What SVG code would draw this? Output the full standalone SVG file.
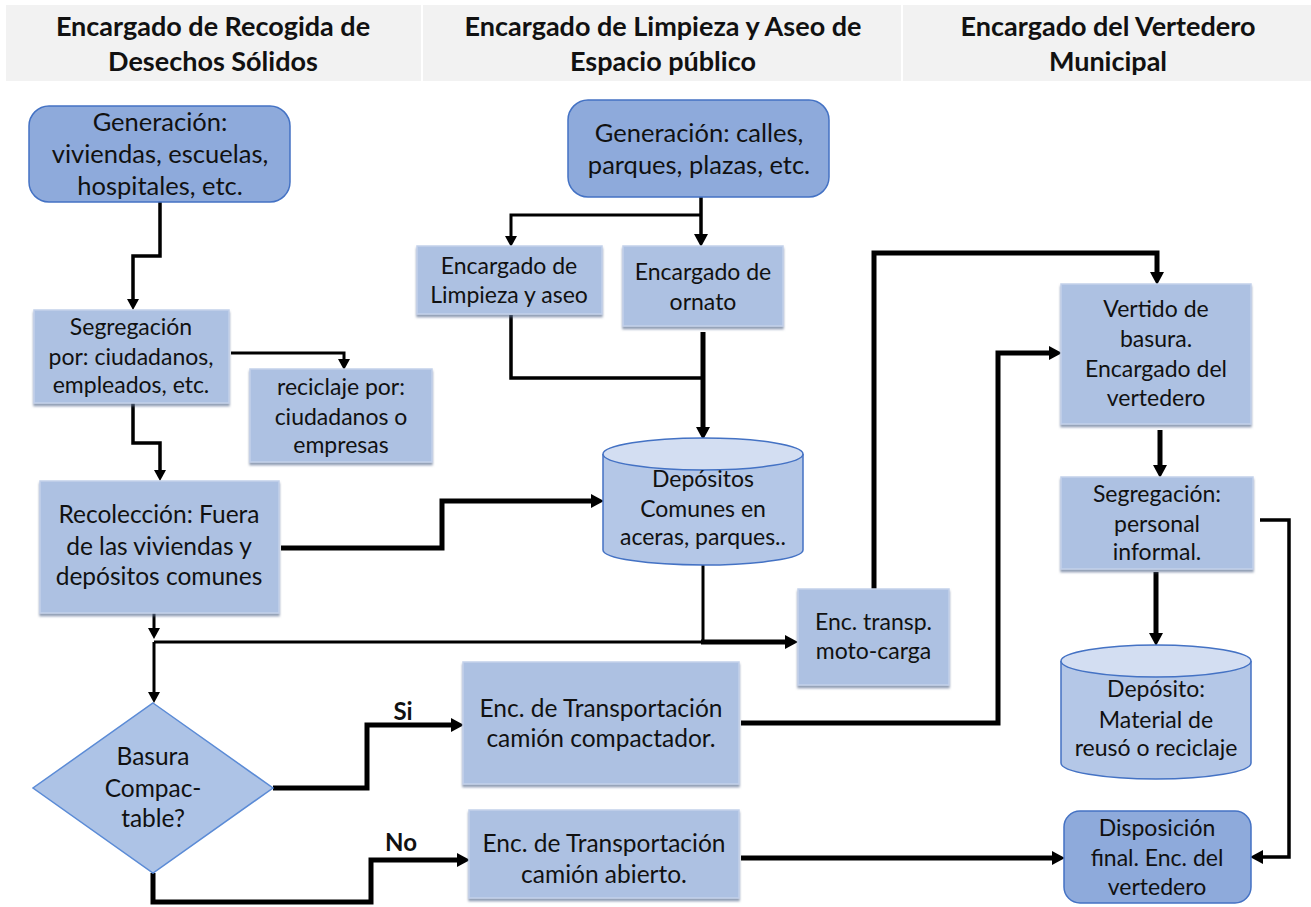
<svg xmlns="http://www.w3.org/2000/svg" width="1311" height="907" viewBox="0 0 1311 907">
<style>
.hd{fill:#f2f2f2}
.ht{font-family:Lato,"Open Sans","Liberation Sans",sans-serif;font-weight:bold;font-size:27px;fill:#111;text-anchor:middle}
.tx{font-family:Lato,"Open Sans","Liberation Sans",sans-serif;font-size:23px;fill:#111;text-anchor:middle}
.lg{font-size:25.5px}
.md{font-size:24.5px}
.lb{font-family:Lato,"Open Sans","Liberation Sans",sans-serif;font-weight:bold;font-size:24px;fill:#111;text-anchor:middle}
.bx{fill:#adc1e2;stroke:#c3d1ea;stroke-width:1.5;filter:url(#sh)}
.gn{fill:#8eaadb;stroke:#4472c4;stroke-width:1.5}
.cy{fill:#b4c7e7;stroke:#4472c4;stroke-width:1.5}
.ct{fill:#d3def2;stroke:#4472c4;stroke-width:1.5}
.dm{fill:#adc3e6;stroke:#5b8bd6;stroke-width:1.5}
.c{fill:none;stroke:#000;stroke-width:3.5;stroke-linejoin:miter}
.k{stroke-width:5}
.n{stroke-width:3}
</style>
<defs>
<filter id="sh" x="-5%" y="-5%" width="110%" height="115%">
<feDropShadow dx="0" dy="2.5" stdDeviation="0.8" flood-color="#5e6f92" flood-opacity="0.7"/>
</filter>
<marker id="ar" markerUnits="userSpaceOnUse" markerWidth="16" markerHeight="16" refX="4" refY="7" orient="auto">
<path d="M0,0 L13,7 L0,14 z" fill="#000"/>
</marker>
<marker id="as" markerUnits="userSpaceOnUse" markerWidth="14" markerHeight="14" refX="3" refY="6" orient="auto">
<path d="M0,0 L11,6 L0,12 z" fill="#000"/>
</marker>
</defs>
<rect width="1311" height="907" fill="#fff"/>
<g id="headers">
<rect class="hd" x="6" y="5" width="415" height="76"/>
<rect class="hd" x="423" y="5" width="478" height="76"/>
<rect class="hd" x="903" y="5" width="408" height="76"/>
<text class="ht" x="213" y="36">Encargado de Recogida de</text>
<text class="ht" x="213" y="71">Desechos Sólidos</text>
<text class="ht" x="663" y="36">Encargado de Limpieza y Aseo de</text>
<text class="ht" x="663" y="71">Espacio público</text>
<text class="ht" x="1108" y="36">Encargado del Vertedero</text>
<text class="ht" x="1108" y="71">Municipal</text>
</g>
<g id="connectors">
<path class="c" d="M160,202 V256 H133 V302" marker-end="url(#as)"/>
<path class="c n" d="M231,353 H344 V362" marker-end="url(#as)"/>
<path class="c" d="M133,403 V443 H160 V473" marker-end="url(#as)"/>
<path class="c" d="M701,197 V238" marker-end="url(#ar)"/>
<path class="c n" d="M701,215 H511 V239" marker-end="url(#as)"/>
<path class="c" d="M511,315 V378 H703"/>
<path class="c k" d="M703,332 V431" marker-end="url(#ar)"/>
<path class="c k" d="M281,548 H442 V501 H595" marker-end="url(#ar)"/>
<path class="c n" d="M154,613 V631" marker-end="url(#as)"/>
<path class="c n" d="M154,642 H703"/>
<path class="c n" d="M154,642 V695" marker-end="url(#as)"/>
<path class="c n" d="M703,565 V642"/>
<path class="c k" d="M701,642 H789" marker-end="url(#ar)"/>
<path class="c k" d="M874,589 V253 H1157 V276" marker-end="url(#ar)"/>
<path class="c k" d="M741,723 H998 V353 H1053" marker-end="url(#ar)"/>
<path class="c k" d="M1160,430 V469" marker-end="url(#ar)"/>
<path class="c k" d="M1156,572 V637" marker-end="url(#ar)"/>
<path class="c" d="M1260,520 H1289 V857 H1259" marker-end="url(#ar)"/>
<path class="c k" d="M741,858 H1056" marker-end="url(#ar)"/>
<path class="c k" d="M273,788 H367 V725 H455" marker-end="url(#ar)"/>
<path class="c k" d="M153,873 V902 H371 V860 H461" marker-end="url(#ar)"/>
<text class="lb" x="403" y="720">Si</text>
<text class="lb" x="401" y="851">No</text>
</g>
<g id="gen1">
<rect class="gn" x="29" y="106" width="261" height="96" rx="20"/>
<text class="tx lg" x="160" y="131">Generación:</text>
<text class="tx lg" x="160" y="163">viviendas, escuelas,</text>
<text class="tx lg" x="160" y="195">hospitales, etc.</text>
</g>
<g id="gen2">
<rect class="gn" x="568" y="100" width="261" height="97" rx="20"/>
<text class="tx lg" x="699" y="142">Generación: calles,</text>
<text class="tx lg" x="699" y="174">parques, plazas, etc.</text>
</g>
<g id="limpieza">
<rect class="bx" x="417" y="246" width="185" height="68"/>
<text class="tx" x="509" y="274">Encargado de</text>
<text class="tx" x="509" y="303">Limpieza y aseo</text>
</g>
<g id="ornato">
<rect class="bx" x="623" y="246" width="160" height="80"/>
<text class="tx" x="703" y="280">Encargado de</text>
<text class="tx" x="703" y="310">ornato</text>
</g>
<g id="segregacion1">
<rect class="bx" x="34" y="310" width="195" height="93"/>
<text class="tx" x="131" y="335">Segregación</text>
<text class="tx" x="131" y="365">por: ciudadanos,</text>
<text class="tx" x="131" y="393">empleados, etc.</text>
</g>
<g id="reciclaje">
<rect class="bx" x="250" y="369" width="182" height="93"/>
<text class="tx" x="341" y="395">reciclaje por:</text>
<text class="tx" x="341" y="425">ciudadanos o</text>
<text class="tx" x="341" y="453">empresas</text>
</g>
<g id="recoleccion">
<rect class="bx" x="40" y="481" width="239" height="132"/>
<text class="tx md" x="159" y="523">Recolección: Fuera</text>
<text class="tx md" x="159" y="555">de las viviendas y</text>
<text class="tx md" x="159" y="585">depósitos comunes</text>
</g>
<g id="depositos">
<path class="cy" d="M603,454 V550 A100,15 0 0 0 803,550 V454"/>
<ellipse class="ct" cx="703" cy="454" rx="100" ry="16"/>
<text class="tx" x="703" y="487">Depósitos</text>
<text class="tx" x="703" y="517">Comunes en</text>
<text class="tx" x="703" y="545">aceras, parques..</text>
</g>
<g id="motocarga">
<rect class="bx" x="798" y="589" width="151" height="96"/>
<text class="tx" x="873.5" y="630">Enc. transp.</text>
<text class="tx" x="873.5" y="659">moto-carga</text>
</g>
<g id="vertido">
<rect class="bx" x="1061" y="284" width="190" height="140"/>
<text class="tx" x="1156" y="317">Vertido de</text>
<text class="tx" x="1156" y="347">basura.</text>
<text class="tx" x="1156" y="377">Encargado del</text>
<text class="tx" x="1156" y="406">vertedero</text>
</g>
<g id="segregacion2">
<rect class="bx" x="1061" y="477" width="192" height="92"/>
<text class="tx" x="1157" y="502">Segregación:</text>
<text class="tx" x="1157" y="532">personal</text>
<text class="tx" x="1157" y="560">informal.</text>
</g>
<g id="deposito2">
<path class="cy" d="M1061,661 V763 A95,16 0 0 0 1251,763 V661"/>
<ellipse class="ct" cx="1156" cy="661" rx="95" ry="16"/>
<text class="tx" x="1156" y="697">Depósito:</text>
<text class="tx" x="1156" y="728">Material de</text>
<text class="tx" x="1156" y="756">reusó o reciclaje</text>
</g>
<g id="disposicion">
<rect class="gn" x="1064" y="811" width="187" height="92" rx="16"/>
<text class="tx" x="1157" y="836">Disposición</text>
<text class="tx" x="1157" y="866">final. Enc. del</text>
<text class="tx" x="1157" y="895">vertedero</text>
</g>
<g id="decision">
<polygon class="dm" points="153,703 273,788 153,873 33,788"/>
<text class="tx md" x="153" y="765">Basura</text>
<text class="tx md" x="153" y="797">Compac-</text>
<text class="tx md" x="153" y="827">table?</text>
</g>
<g id="compactador">
<rect class="bx" x="463" y="662" width="276" height="122"/>
<text class="tx md" x="601" y="717">Enc. de Transportación</text>
<text class="tx md" x="601" y="747">camión compactador.</text>
</g>
<g id="abierto">
<rect class="bx" x="469" y="810" width="270" height="88"/>
<text class="tx md" x="604" y="852">Enc. de Transportación</text>
<text class="tx md" x="604" y="883">camión abierto.</text>
</g>
</svg>
